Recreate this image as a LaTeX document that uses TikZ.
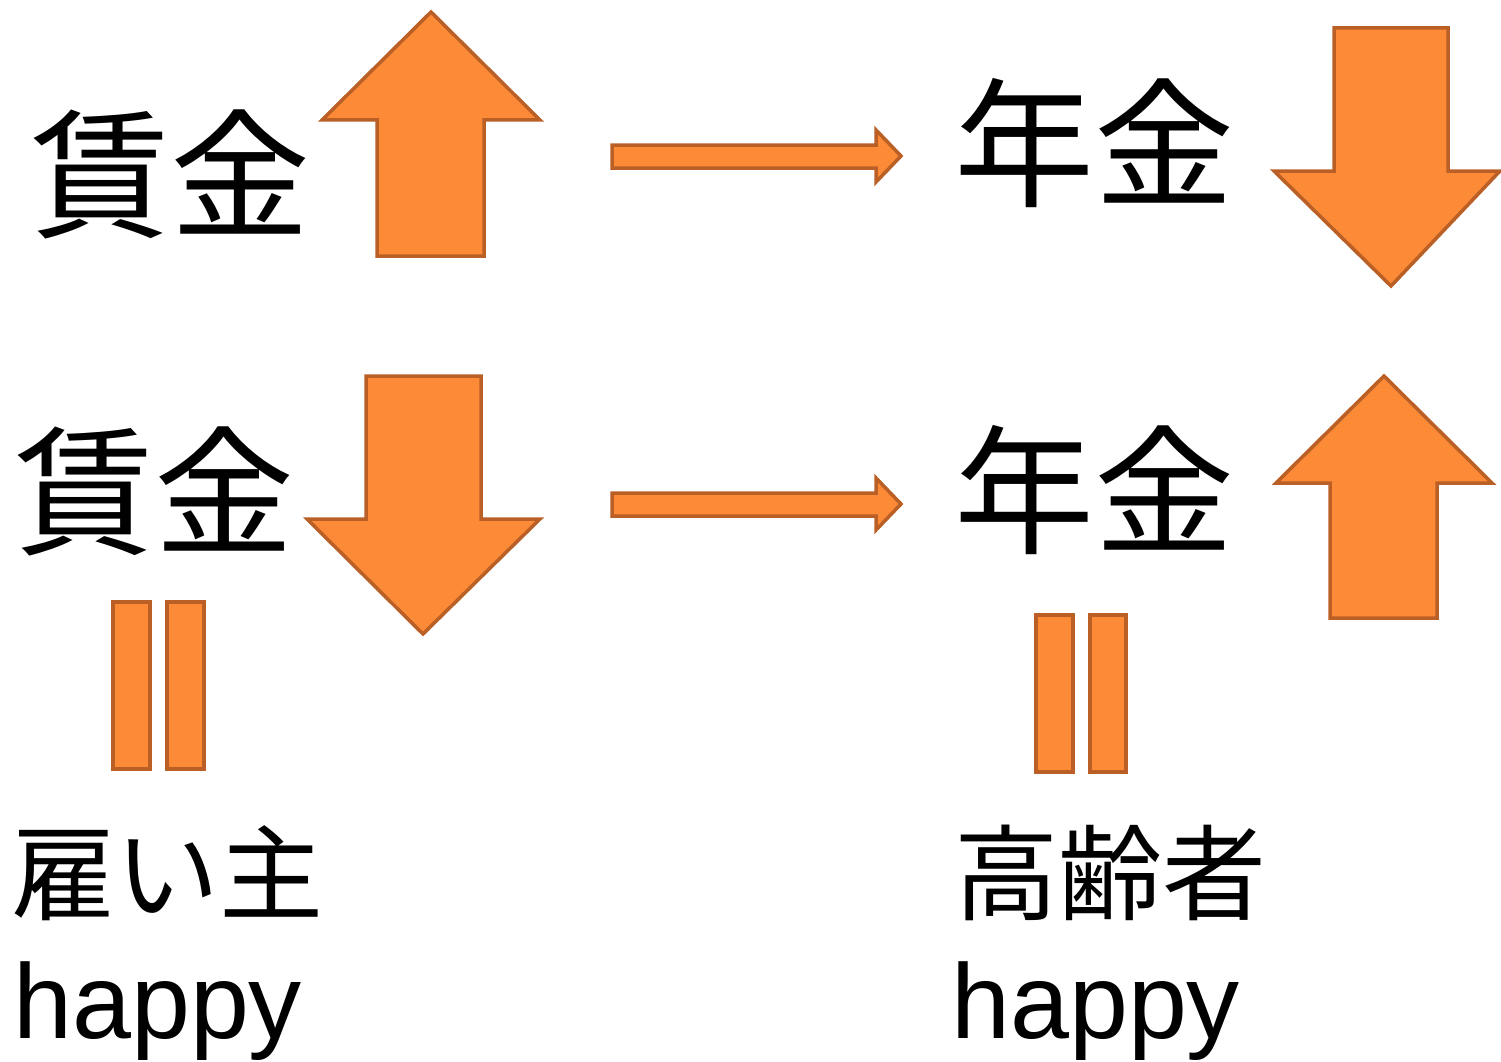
\documentclass[tikz,border=0pt]{standalone}
\usepackage{fontspec}
\setmainfont{Liberation Sans}
\newfontfamily\cjk{Noto Sans CJK JP}
\definecolor{arrfill}{HTML}{FD8A36}
\definecolor{arrline}{HTML}{BA6026}
\begin{document}
\begin{tikzpicture}[x=1pt,y=-1pt,
  blockarrow/.style={fill=arrfill,draw=arrline,line width=3.5pt,line join=miter},
  bigjp/.style={font=\cjk\fontsize{140}{150}\selectfont,inner sep=0pt,anchor=base},
  midjp/.style={font=\cjk\fontsize{104}{110}\selectfont,inner sep=0pt,anchor=base},
  lat/.style={font=\fontsize{106}{110}\selectfont,inner sep=0pt,anchor=base west}]
\useasboundingbox (0,0) rectangle (1501,1062);
% texts
\node[bigjp] (w1) at (170,227) {賃金};
\node[bigjp] (p1) at (1094,196) {年金};
\node[bigjp] (w2) at (154,544) {賃金};
\node[bigjp] (p2) at (1094,543) {年金};
\node[midjp] (emp) at (167,912) {雇い主};
\node[midjp] (old) at (1110,912) {高齢者};
\node[lat] (h1) at (13,1038) {happy};
\node[lat] (h2) at (951,1038) {happy};
% big up arrow top-left
\draw[blockarrow] (431,12) -- (540,120) -- (484,120) -- (484,256) -- (377,256) -- (377,120) -- (322,120) -- cycle;
% big down arrow top-right
\draw[blockarrow] (1334,28) -- (1448,28) -- (1448,171) -- (1500,171) -- (1391,286) -- (1274,171) -- (1334,171) -- cycle;
% big down arrow middle-left
\draw[blockarrow] (366,376) -- (481,376) -- (481,519) -- (540,519) -- (423,634) -- (307,519) -- (366,519) -- cycle;
% big up arrow right
\draw[blockarrow] (1384,376) -- (1492,483) -- (1437,483) -- (1437,618) -- (1330,618) -- (1330,483) -- (1276,483) -- cycle;
% horizontal arrows
\draw[blockarrow] (612,145) -- (876,145) -- (876,130) -- (901,156) -- (876,182) -- (876,168) -- (612,168) -- cycle;
\draw[blockarrow] (612,493) -- (876,493) -- (876,478) -- (901,504) -- (876,530) -- (876,516) -- (612,516) -- cycle;
% equal signs
\draw[blockarrow] (113,602) rectangle (150,769);
\draw[blockarrow] (167,602) rectangle (204,769);
\draw[blockarrow] (1036,615) rectangle (1073,772);
\draw[blockarrow] (1090,615) rectangle (1126,772);
\end{tikzpicture}
\end{document}
